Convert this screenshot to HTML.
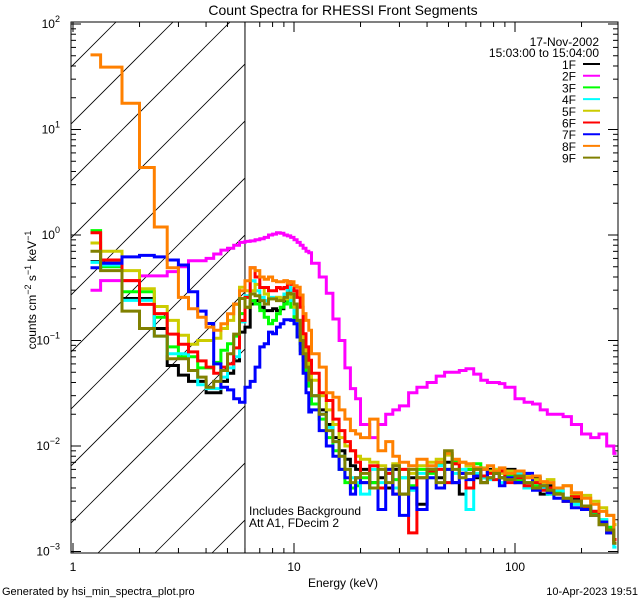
<!DOCTYPE html>
<html><head><meta charset="utf-8"><style>
html,body{margin:0;padding:0;background:#fff;}
svg{display:block;font-family:"Liberation Sans",sans-serif;}
</style></head><body>
<svg id="chart" width="640" height="600" viewBox="0 0 640 600" xmlns="http://www.w3.org/2000/svg">
<defs><clipPath id="plotclip"><rect x="71" y="22" width="547" height="531"/></clipPath>
<clipPath id="hatchclip"><rect x="71" y="22" width="174" height="531"/></clipPath></defs>
<rect width="640" height="600" fill="#fff"/>
<text x="343" y="15" font-size="14" text-anchor="middle">Count Spectra for RHESSI Front Segments</text>
<g id="hatch" clip-path="url(#hatchclip)"></g>
<g id="axes"></g>
<g id="series" clip-path="url(#plotclip)"></g>
<text x="343" y="587" font-size="12" text-anchor="middle">Energy (keV)</text>
<text transform="translate(36,290) rotate(-90)" font-size="12" text-anchor="middle">counts cm<tspan dy="-5" font-size="9">−2</tspan><tspan dy="5"> s</tspan><tspan dy="-5" font-size="9">−1</tspan><tspan dy="5"> keV</tspan><tspan dy="-5" font-size="9">−1</tspan></text>
<text x="249" y="515" font-size="12">Includes Background</text>
<text x="249" y="527" font-size="12">Att A1, FDecim 2</text>
<text x="599" y="46" font-size="12" text-anchor="end">17-Nov-2002</text>
<text x="599" y="57" font-size="12" text-anchor="end">15:03:00 to 15:04:00</text>
<g id="legend"></g>
<text x="2" y="595" font-size="11">Generated by hsi_min_spectra_plot.pro</text>
<text x="638" y="595" font-size="11" text-anchor="end">10-Apr-2023 19:51</text>
</svg>
<script>
const energyEdges=[1.2,1.333,1.667,2,2.333,2.667,3,3.333,3.667,4,4.333,4.667,5,5.333,5.667,6,6.333,6.667,7,7.333,7.667,8,8.333,8.667,9,9.333,9.667,10,10.333,10.667,11,11.333,11.667,12,13,14,15,16,17,18,19,20,22,24,26,28,30,33,36,40,44,48,52,56,60,65,70,75,80,85,90,100,110,120,130,140,150,165,180,200,220,240,260,280,288];
const seriesNames=["1F","2F","3F","4F","5F","6F","7F","8F","9F"];
const seriesColors=["#000000","#ff00ff","#00ff00","#00ffff","#cccc00","#ff0000","#0000ff","#ff8000","#808000"];
const s1F=[0.56,0.54,0.25,0.25,0.13,0.058,0.047,0.041,0.041,0.032,0.032,0.041,0.049,0.064,0.12,
0.134,0.222,0.239,0.207,0.192,0.192,0.2,0.192,0.2,0.239,0.296,0.276,0.207,0.134,0.093,0.07,0.052,0.039,
0.03,0.022,0.016,0.012,0.009,0.0075,0.0065,0.006,
0.006,0.0045,0.005,0.004,0.006,0.0035,0.005,0.0028,
0.006,0.005,0.007,0.0045,0.0035,0.006,0.005,0.0045,0.006,0.0055,
0.005,0.006,0.0045,0.004,0.005,0.0035,0.0042,0.0038,0.003,0.0032,0.0026,0.0024,0.0018,0.0015,0.0012];
const s2F=[0.3,0.37,0.37,0.41,0.41,0.45,0.5,0.57,0.57,0.6,
0.66,0.72,0.75,0.8,0.85,0.87,0.88,0.9,0.92,0.95,
1.0,1.02,1.05,1.04,1.0,0.98,0.95,0.9,0.85,0.8,
0.75,0.7,0.68,0.54,0.4,0.28,0.16,0.1,0.055,0.035,
0.028,0.016,0.012,0.016,0.02,0.022,0.024,0.032,0.036,0.04,
0.046,0.05,0.05,0.052,0.054,0.048,0.042,0.04,0.04,0.039,
0.036,0.028,0.026,0.025,0.022,0.02,0.02,0.019,0.016,0.013,
0.012,0.013,0.01,0.0085];
const s3F=[1.1,0.5,0.29,0.29,0.166,0.087,0.07,0.07,0.055,0.055,0.062,0.081,0.093,0.11,0.18,
0.207,0.239,0.222,0.192,0.166,0.144,0.155,0.179,0.207,0.222,0.239,0.207,0.144,0.108,0.081,0.065,0.049,0.037,
0.025,0.018,0.012,0.009,0.006,0.0045,0.004,0.0042,
0.005,0.0045,0.004,0.0055,0.0048,0.005,0.0042,0.006,
0.0055,0.0068,0.006,0.0072,0.0055,0.006,0.0068,0.005,0.0058,0.0055,
0.005,0.0052,0.0048,0.0045,0.0042,0.004,0.0035,0.0036,0.0032,0.0028,0.0027,0.0023,0.002,0.0017,0.0013];
const s4F=[0.55,0.52,0.24,0.24,0.11,0.075,0.075,0.052,0.038,0.035,0.035,0.045,0.055,0.07,0.15,
0.266,0.368,0.296,0.256,0.239,0.256,0.256,0.256,0.248,0.276,0.318,0.239,0.179,0.134,0.1,0.081,0.065,0.042,
0.03,0.02,0.015,0.011,0.008,0.006,0.005,0.0045,
0.0035,0.006,0.0045,0.0055,0.004,0.005,0.0038,0.0055,
0.005,0.0065,0.0045,0.0055,0.006,0.0025,0.0055,0.005,0.0048,0.006,
0.0045,0.005,0.0055,0.004,0.0045,0.004,0.0035,0.0038,0.0032,0.0028,0.0025,0.0022,0.002,0.0016,0.0011];
const s5F=[0.84,0.7,0.46,0.31,0.21,0.155,0.112,0.092,0.1,0.1,0.105,0.13,0.155,0.22,0.32,
0.296,0.296,0.34,0.318,0.276,0.248,0.248,0.256,0.248,0.248,0.276,0.256,0.207,0.155,0.116,0.093,0.075,0.056,
0.042,0.03,0.022,0.016,0.012,0.01,0.009,0.008,
0.0075,0.007,0.0065,0.006,0.0068,0.006,0.0055,0.0065,
0.007,0.0075,0.0082,0.0068,0.007,0.0065,0.006,0.0062,0.0058,0.006,
0.0055,0.0058,0.005,0.0052,0.0048,0.0045,0.0048,0.004,0.0042,0.0035,0.0034,0.003,0.0026,0.0022,0.0018];
const s6F=[1.05,0.58,0.37,0.22,0.18,0.115,0.092,0.078,0.064,0.056,0.049,0.056,0.06,0.085,0.155,
0.256,0.49,0.4,0.318,0.318,0.296,0.296,0.318,0.31,0.318,0.36,0.34,0.296,0.256,0.207,0.116,0.087,0.065,
0.049,0.032,0.027,0.018,0.014,0.011,0.009,0.007,
0.0045,0.0065,0.004,0.0055,0.0035,0.006,0.0015,0.005,
0.0058,0.006,0.0045,0.0068,0.0055,0.004,0.0062,0.0052,0.0055,0.0048,
0.0058,0.0045,0.005,0.0042,0.0045,0.0038,0.004,0.0035,0.003,0.0033,0.0026,0.0024,0.0019,0.0016,0.0013];
const s7F=[0.49,0.54,0.62,0.64,0.62,0.58,0.52,0.29,0.19,0.145,0.06,0.036,0.034,0.028,0.026,
0.036,0.041,0.056,0.087,0.093,0.12,0.116,0.134,0.144,0.157,0.157,0.155,0.144,0.108,0.075,0.049,0.032,0.021,
0.022,0.014,0.01,0.008,0.006,0.005,0.0035,0.005,
0.0045,0.004,0.0025,0.006,0.0035,0.0022,0.004,0.0025,
0.005,0.004,0.006,0.0045,0.0055,0.0048,0.0052,0.006,0.005,0.0055,
0.0042,0.005,0.0045,0.0055,0.0038,0.0042,0.0036,0.0032,0.003,0.0026,0.0025,0.0022,0.0019,0.0015,0.0012];
const s8F=[51,39,17.7,4.36,1.19,0.49,0.256,0.2,0.166,0.134,0.125,0.144,0.179,0.222,0.296,
0.368,0.49,0.46,0.4,0.38,0.4,0.37,0.36,0.36,0.37,0.35,0.36,0.33,0.32,0.27,0.18,0.155,0.125,
0.075,0.056,0.032,0.029,0.022,0.018,0.014,0.013,
0.012,0.018,0.009,0.011,0.008,0.007,0.0065,0.0075,
0.0065,0.007,0.0085,0.0075,0.007,0.0068,0.0062,0.006,0.0065,0.0058,
0.0062,0.0055,0.0058,0.005,0.0052,0.0046,0.0045,0.004,0.0042,0.0036,0.0032,0.0028,0.0024,0.0022,0.0012];
const s9F=[0.7,0.46,0.19,0.13,0.11,0.067,0.067,0.052,0.045,0.036,0.041,0.052,0.075,0.115,0.25,
0.207,0.276,0.266,0.239,0.222,0.248,0.248,0.239,0.239,0.256,0.28,0.276,0.222,0.155,0.1,0.075,0.056,0.042,
0.03,0.02,0.014,0.011,0.008,0.006,0.0045,0.005,
0.0055,0.004,0.006,0.0045,0.0065,0.0035,0.006,0.005,
0.006,0.0045,0.009,0.006,0.005,0.0055,0.006,0.0045,0.005,0.0055,
0.005,0.0048,0.0052,0.0045,0.004,0.0042,0.0038,0.0035,0.0032,0.003,0.0027,0.0022,0.0018,0.0016,0.0012];
const xMajorTicks=[1,10,100];
const xTickLabels=["1","10","100"];
const yMajorTicks=[0.001,0.01,0.1,1,10,100];
const yTickExps=["−3","−2","−1","0","1","2"];
const hatchEnergy=6;

const NS="http://www.w3.org/2000/svg";
const L=71,R=618,T=22,B=553;
function xs(e){return 73+221*Math.log10(e);}
function ys(v){return 24+105.5*(2-Math.log10(v));}
function mk(tag,attrs,parent){const el=document.createElementNS(NS,tag);for(const k in attrs)el.setAttribute(k,attrs[k]);parent.appendChild(el);return el;}
const axes=document.getElementById('axes');
const hatch=document.getElementById('hatch');
const xh=xs(hatchEnergy);
for(let c=-600;c<900;c+=57){
  const ln=mk('line',{x1:L+c,y1:B,x2:L+c+600,y2:B-600,stroke:'#000','stroke-width':0.8},hatch);
  
  
}
const vline=mk('line',{x1:xh,y1:T,x2:xh,y2:B,stroke:'#000','stroke-width':1},axes);


const frame=mk('rect',{x:L,y:T,width:R-L,height:B-T,fill:'none',stroke:'#000','stroke-width':1},axes);


for(let d=1;d<=100;d*=10){for(let m=1;m<10;m++){const e=d*m;const x=xs(e);if(x<L||x>R)continue;const len=m===1?10:5;
  const t1=mk('line',{x1:x,y1:B,x2:x,y2:B-len,stroke:'#000'},axes);
  
  
  const t2=mk('line',{x1:x,y1:T,x2:x,y2:T+len,stroke:'#000'},axes);
  
  }}
xMajorTicks.forEach((e,i)=>{const t=mk('text',{x:xs(e),y:571,'font-size':12,'text-anchor':'middle'},axes);t.textContent=xTickLabels[i];
  
  });
for(let d=0.001;d<=100;d*=10){for(let m=1;m<10;m++){const v=d*m;const y=ys(v);if(y<T||y>B)continue;const len=m===1?10:5;
  const t1=mk('line',{x1:L,y1:y,x2:L+len,y2:y,stroke:'#000'},axes);
  
  
  const t2=mk('line',{x1:R,y1:y,x2:R-len,y2:y,stroke:'#000'},axes);
  
  }}
yMajorTicks.forEach((v,i)=>{const t=mk('text',{x:60,y:Math.min(ys(v)+4,557),'font-size':12,'text-anchor':'end'},axes);
  t.textContent='10';const s=mk('tspan',{dy:-6,'font-size':9},t);s.textContent=yTickExps[i];
  
  });
const seriesData=[s1F,s2F,s3F,s4F,s5F,s6F,s7F,s8F,s9F];
const sg=document.getElementById('series');
seriesData.forEach((vals,si)=>{
  let d='';
  for(let i=0;i<vals.length;i++){const x0=xs(energyEdges[i]),x1=xs(energyEdges[i+1]);const y=ys(Math.max(vals[i],1e-4));
    d+=(i===0?'M':'L')+x0.toFixed(1)+' '+y.toFixed(1)+'H'+x1.toFixed(1);}
  const p=mk('path',{d:d,fill:'none',stroke:seriesColors[si],'stroke-width':3,'stroke-linejoin':'miter'},sg);
  
  
});
const lg=document.getElementById('legend');
seriesNames.forEach((n,i)=>{const y=69+i*11.7;
  const t=mk('text',{x:576,y:y,'font-size':12,'text-anchor':'end'},lg);t.textContent=n;
  
  
  const l=mk('line',{x1:583,y1:y-5,x2:600,y2:y-5,stroke:seriesColors[i],'stroke-width':2},lg);
  
  });
</script>
</body></html>
